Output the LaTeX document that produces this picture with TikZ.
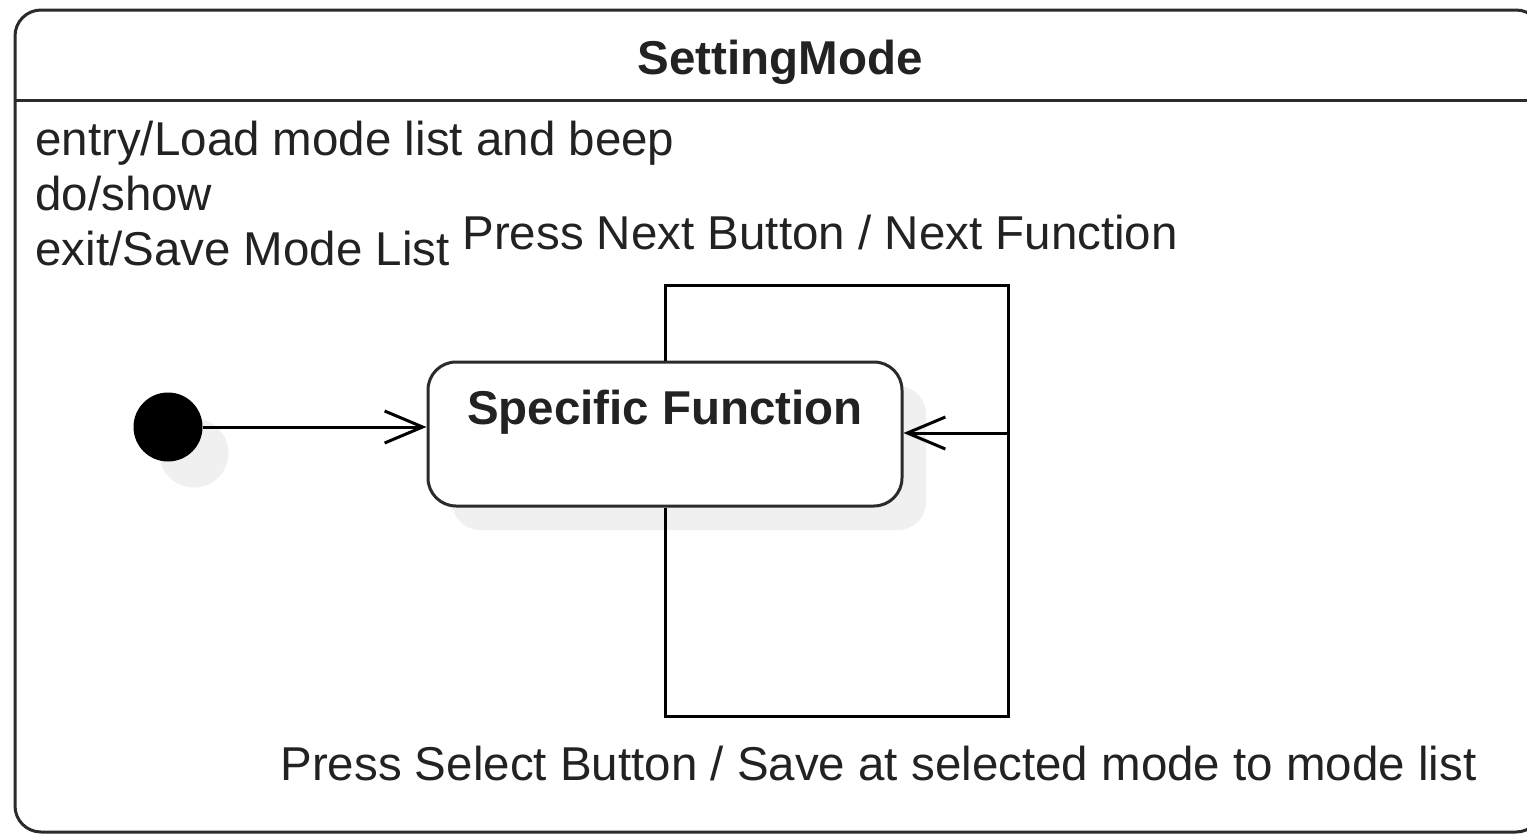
\documentclass[tikz,border=0pt]{standalone}
\usepackage{fontspec}
\setmainfont{Liberation Sans}
\usetikzlibrary{arrows.meta,shadows}
\definecolor{linecol}{HTML}{2B2B2B}
\definecolor{txtcol}{HTML}{222222}
\definecolor{shadowcol}{HTML}{F0F0F0}
\begin{document}
\begin{tikzpicture}[x=0.5pt,y=-0.5pt,
  txt/.style={font=\fontsize{23.75pt}{28pt}\selectfont, text=txtcol, inner sep=0pt},
  bold/.style={txt, font=\fontsize{23.75pt}{28pt}\selectfont\bfseries},
  frame/.style={draw=linecol, line width=1.5pt, rounded corners=13pt, inner sep=0pt,
    minimum width=763.5pt, minimum height=411pt},
  statebox/.style={draw=linecol, line width=1.5pt, rounded corners=14pt, fill=white,
    font=\fontsize{23.75pt}{28pt}\selectfont\bfseries, text=txtcol,
    inner sep=0pt, minimum width=237pt, text height=31pt, text depth=41pt,
    drop shadow={shadow xshift=12pt, shadow yshift=-12pt, fill=shadowcol, opacity=1}},
  initstate/.style={circle, fill=black, inner sep=0pt, minimum size=34.5pt,
    drop shadow={shadow xshift=13pt, shadow yshift=-13pt, fill=shadowcol, opacity=1}},
  wire/.style={draw=black, line width=1.5pt},
  conn/.style={wire, -{Straight Barb[length=19pt,width=16pt]}}
]
\useasboundingbox (0,0) rectangle (1527,835);
\clip (0,0) rectangle (1527,835);
\fill[white] (0,0) rectangle (1527,835);

% outer composite state
\node[frame] (setting) at (778.5,421) {};
\draw[linecol, line width=1.5pt] (15,100) -- (1542,100);
\node[bold, anchor=base] (title) at (780,75) {SettingMode};

% internal activities
\node[txt, anchor=base west] (entry) at (35,155) {entry/Load mode list and beep};
\node[txt, anchor=base west] (do) at (35,210) {do/show};
\node[txt, anchor=base west] (exit) at (35,265) {exit/Save Mode List};

% initial pseudostate and state
\node[initstate] (init) at (168,427) {};
\node[statebox] (sf) at (665,434) {Specific Function};

% transitions
\coordinate (tr) at (1008,285);
\coordinate (br) at (1008,716);
\coordinate (join) at (1008,433);
\draw[conn] (init) -- (init -| sf.west);
\draw[wire] (sf.north) |- (tr) -- (join);
\draw[wire] (sf.south) |- (br) -- (join);
\draw[conn] (join) -- (join -| sf.east);

% transition labels
\node[txt, anchor=base west] (nextlbl) at (462,249) {Press Next Button / Next Function};
\node[txt, anchor=base west] (selectlbl) at (280,780) {Press Select Button / Save at selected mode to mode list};
\end{tikzpicture}
\end{document}
